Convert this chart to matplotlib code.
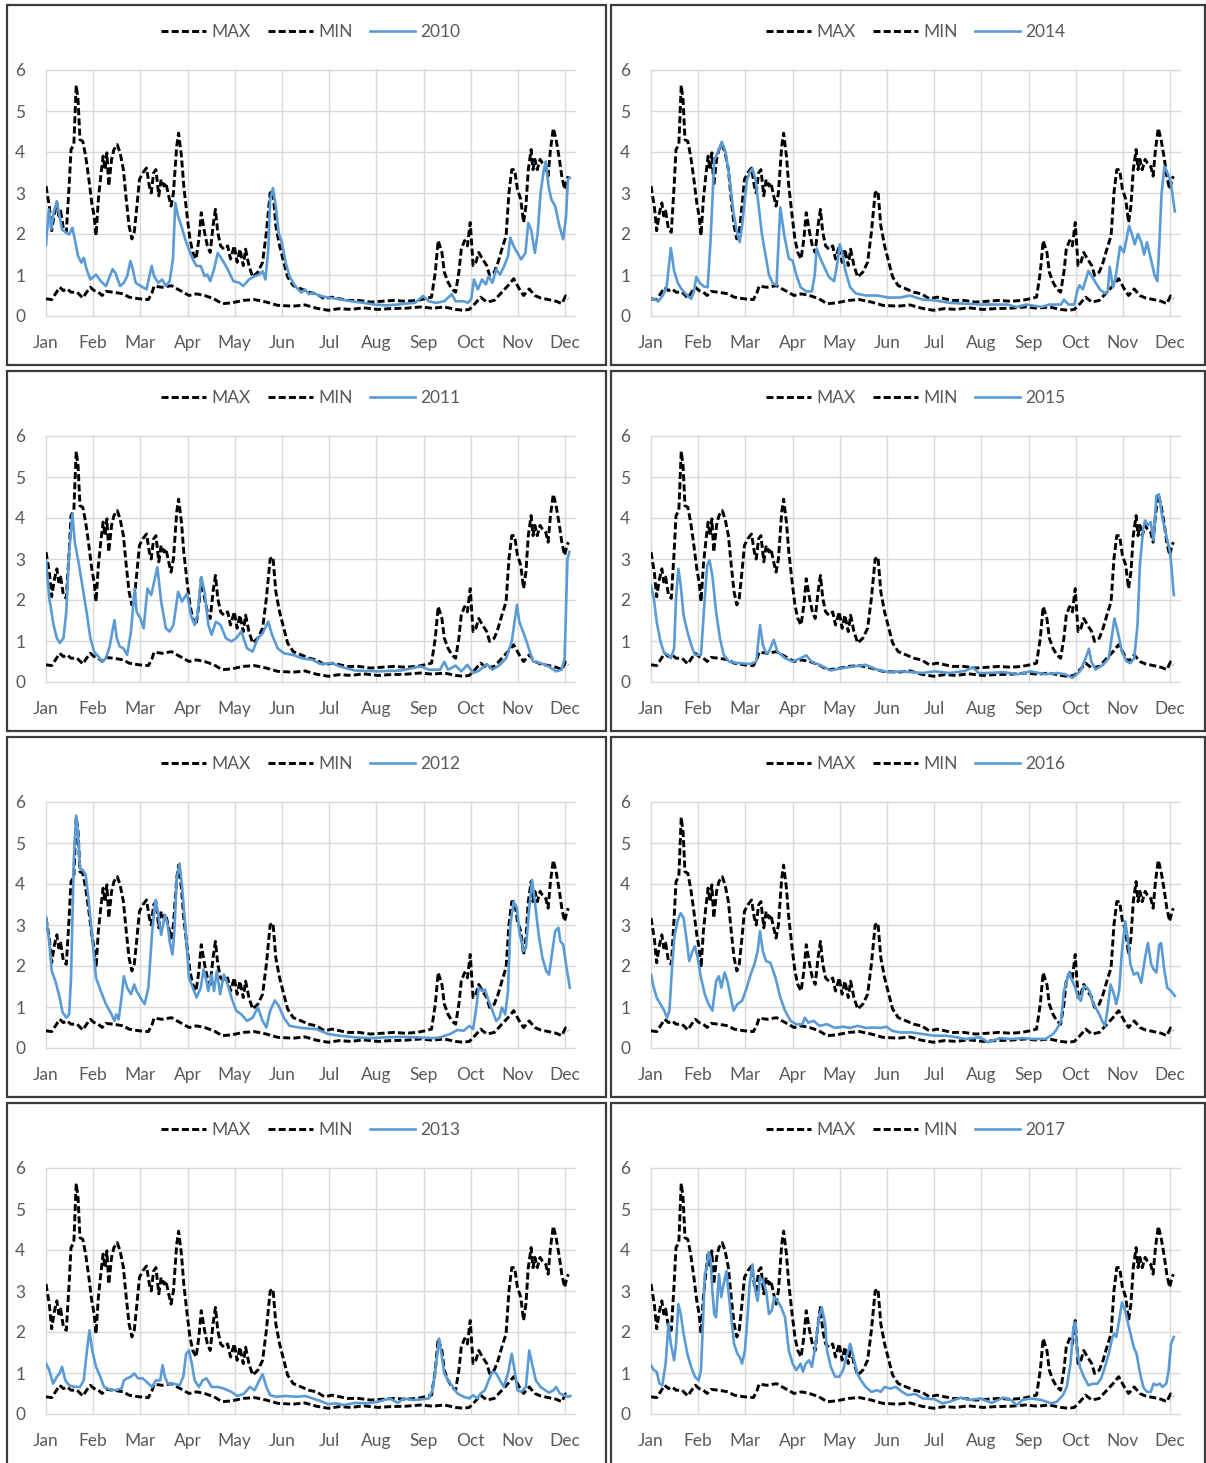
import matplotlib
matplotlib.use("Agg")
import matplotlib.pyplot as plt
from matplotlib.patches import Rectangle

plt.rcParams['font.family'] = ['Lato', 'DejaVu Sans']

MONTHS = ["Jan", "Feb", "Mar", "Apr", "May", "Jun", "Jul", "Aug", "Sep", "Oct", "Nov", "Dec"]
Y_TICKS = [0, 1, 2, 3, 4, 5, 6]

# x positions are in months since 1 January
MAX_T = [0, 0.07, 0.12, 0.18, 0.23, 0.27, 0.31, 0.37, 0.43, 0.49, 0.53, 0.59, 0.64, 0.68, 0.72, 0.78,
         0.84, 0.9, 0.97, 1.02, 1.06, 1.11, 1.16, 1.21, 1.25, 1.29, 1.33, 1.39, 1.44, 1.51, 1.57, 1.64,
         1.70, 1.76, 1.82, 1.87, 1.92, 1.98, 2.05, 2.13, 2.19, 2.23, 2.28, 2.33, 2.39, 2.44, 2.50, 2.54,
         2.60, 2.65, 2.70, 2.77, 2.81, 2.87, 2.92, 2.99, 3.05, 3.11, 3.18, 3.24, 3.29, 3.36, 3.42, 3.48,
         3.54, 3.59, 3.64, 3.70, 3.77, 3.85, 3.91, 3.99, 4.05, 4.11, 4.18, 4.23, 4.30, 4.38, 4.49, 4.59,
         4.67, 4.75, 4.81, 4.87, 4.95, 5.04, 5.12, 5.24, 5.41, 5.57, 5.73, 5.90, 6.06, 6.22, 6.39, 6.63,
         6.88, 7.13, 7.37, 7.62, 7.86, 8.03, 8.17, 8.25, 8.31, 8.39, 8.44, 8.52, 8.60, 8.68, 8.75, 8.80,
         8.87, 8.93, 8.99, 9.05, 9.11, 9.17, 9.25, 9.34, 9.40, 9.50, 9.58, 9.66, 9.75, 9.81, 9.87, 9.93,
         9.99, 10.06, 10.12, 10.17, 10.22, 10.28, 10.32, 10.36, 10.41, 10.47, 10.52, 10.59, 10.64, 10.69,
         10.75, 10.81, 10.88, 10.93, 10.99, 11.04, 11.07]
MAX_V = [3.17, 2.68, 2.08, 2.52, 2.76, 2.44, 2.56, 2.12, 2.04, 3.17, 4.06, 4.18, 5.63, 5.27, 4.30, 4.26,
         3.90, 3.41, 2.76, 2.44, 1.96, 2.85, 3.41, 3.90, 3.57, 3.98, 3.17, 3.82, 4.06, 4.18, 3.98, 3.57,
         2.85, 2.20, 1.88, 2.04, 2.60, 3.33, 3.49, 3.61, 3.17, 3.00, 3.49, 3.57, 2.93, 3.33, 3.17, 3.25,
         2.93, 2.68, 3.00, 4.14, 4.46, 3.90, 3.17, 2.44, 1.88, 1.55, 1.39, 1.88, 2.52, 2.04, 1.71, 1.55,
         2.20, 2.60, 2.04, 1.71, 1.63, 1.71, 1.39, 1.71, 1.31, 1.63, 1.23, 1.63, 1.23, 0.95, 1.07, 1.31,
         2.04, 3.00, 3.05, 2.20, 1.71, 1.31, 0.95, 0.74, 0.66, 0.58, 0.54, 0.42, 0.46, 0.42, 0.38, 0.38,
         0.34, 0.36, 0.38, 0.36, 0.38, 0.42, 0.46, 1.07, 1.84, 1.55, 1.07, 0.82, 0.66, 0.58, 1.07, 1.63,
         1.84, 1.71, 2.28, 1.23, 1.31, 1.55, 1.39, 1.23, 0.99, 1.07, 1.31, 1.63, 1.96, 3.00, 3.57, 3.57,
         3.09, 2.85, 2.28, 2.68, 3.57, 4.06, 3.57, 3.82, 3.57, 3.82, 3.73, 3.65, 3.41, 4.06,
         4.58, 4.30, 3.82, 3.41, 3.09, 3.33, 3.41]

MIN_T = [0, 0.12, 0.2, 0.29, 0.37, 0.45, 0.53, 0.66, 0.78, 0.86, 0.94, 1.02, 1.11, 1.19, 1.27, 1.43,
         1.64, 1.76, 1.97, 2.17, 2.25, 2.29, 2.46, 2.66, 2.78, 2.91, 3.03, 3.19, 3.36, 3.56, 3.73, 3.93,
         4.18, 4.42, 4.67, 4.91, 5.24, 5.49, 5.73, 5.98, 6.22, 6.47, 6.72, 7.04, 7.29, 7.62, 7.94, 8.19,
         8.44, 8.68, 8.84, 8.97, 9.09, 9.21, 9.34, 9.50, 9.66, 9.79, 9.91, 10.03, 10.12, 10.24, 10.36,
         10.48, 10.65, 10.81, 10.93, 11.01, 11.07]
MIN_V = [0.42, 0.40, 0.54, 0.70, 0.62, 0.66, 0.58, 0.58, 0.44, 0.58, 0.70, 0.62, 0.58, 0.50, 0.60, 0.58,
         0.54, 0.46, 0.42, 0.40, 0.58, 0.73, 0.70, 0.74, 0.66, 0.58, 0.50, 0.54, 0.50, 0.42, 0.30, 0.32,
         0.38, 0.40, 0.34, 0.26, 0.24, 0.27, 0.19, 0.14, 0.18, 0.16, 0.20, 0.16, 0.18, 0.19, 0.22, 0.19,
         0.22, 0.16, 0.14, 0.16, 0.30, 0.46, 0.34, 0.38, 0.58, 0.74, 0.91, 0.66, 0.50, 0.66, 0.50,
         0.44, 0.40, 0.36, 0.30, 0.49, 0.42]

Y2010_T = [0, 0.06, 0.11, 0.16, 0.23, 0.29, 0.34, 0.43, 0.49, 0.56, 0.61, 0.68, 0.75, 0.80, 0.86, 0.94,
           1.06, 1.16, 1.27, 1.41, 1.47, 1.57, 1.65, 1.72, 1.79, 1.84, 1.90, 2.01, 2.13, 2.24, 2.29, 2.38,
           2.46, 2.54, 2.62, 2.69, 2.74, 2.80, 2.87, 2.95, 3.03, 3.11, 3.19, 3.28, 3.36, 3.42, 3.48, 3.56,
           3.64, 3.73, 3.85, 3.97, 4.10, 4.18, 4.30, 4.42, 4.52, 4.59, 4.65, 4.71, 4.75, 4.81, 4.87, 4.93,
           5.0, 5.08, 5.16, 5.28, 5.41, 5.49, 5.57, 5.65, 5.81, 5.98, 6.22, 6.47, 6.72, 6.96, 7.21, 7.45,
           7.70, 7.82, 7.99, 8.11, 8.27, 8.44, 8.60, 8.68, 8.85, 8.94, 9.01, 9.07, 9.15, 9.24, 9.32, 9.38,
           9.46, 9.54, 9.62, 9.71, 9.79, 9.84, 9.91, 9.99, 10.07, 10.16, 10.22, 10.28, 10.36, 10.42, 10.48,
           10.55, 10.59, 10.65, 10.71, 10.79, 10.88, 10.96, 11.02, 11.06, 11.10]
Y2010_V = [1.74, 2.60, 2.11, 2.51, 2.80, 2.43, 2.11, 2.03, 1.99, 2.15, 1.87, 1.46, 1.30, 1.42, 1.14, 0.89,
           1.01, 0.85, 0.73, 1.14, 1.05, 0.73, 0.81, 0.97, 1.34, 1.14, 0.81, 0.73, 0.65, 1.22, 0.97, 0.81,
           0.89, 0.73, 0.85, 1.38, 2.76, 2.43, 2.19, 1.87, 1.62, 1.38, 1.22, 1.22, 0.97, 1.01, 0.85, 1.14,
           1.54, 1.38, 1.14, 0.85, 0.81, 0.73, 0.89, 0.97, 1.01, 1.09, 0.89, 1.62, 2.84, 3.12, 2.68, 2.03,
           1.78, 1.30, 0.97, 0.73, 0.57, 0.65, 0.53, 0.57, 0.49, 0.45, 0.41, 0.36, 0.32, 0.28, 0.26, 0.28,
           0.31, 0.32, 0.49, 0.36, 0.32, 0.36, 0.53, 0.36, 0.36, 0.32, 0.41, 0.89, 0.65, 0.89, 0.77, 0.97,
           0.81, 1.14, 1.01, 1.22, 1.46, 1.91, 1.70, 1.54, 1.38, 1.54, 2.27, 2.11, 1.54, 2.03, 3.00,
           3.57, 3.77, 3.16, 2.84, 2.68, 2.19, 1.87, 2.43, 3.33, 3.37]

Y2011_T = [0, 0.07, 0.16, 0.23, 0.29, 0.37, 0.43, 0.49, 0.56, 0.61, 0.70, 0.78, 0.86, 0.94, 1.02, 1.11,
           1.19, 1.27, 1.35, 1.45, 1.50, 1.56, 1.64, 1.72, 1.80, 1.88, 1.92, 2.0, 2.07, 2.15, 2.23, 2.36,
           2.44, 2.54, 2.62, 2.70, 2.80, 2.88, 2.99, 3.07, 3.15, 3.21, 3.29, 3.36, 3.44, 3.51, 3.60, 3.70,
           3.81, 3.93, 4.03, 4.14, 4.26, 4.38, 4.49, 4.59, 4.71, 4.79, 4.91, 5.04, 5.24, 5.41, 5.65, 5.81,
           6.06, 6.22, 6.55, 7.04, 7.53, 7.94, 8.11, 8.35, 8.44, 8.52, 8.68, 8.80, 8.93, 9.05, 9.17, 9.34,
           9.46, 9.62, 9.75, 9.87, 9.98, 10.03, 10.16, 10.32, 10.48, 10.65, 10.81, 10.93, 10.99, 11.05, 11.09]
Y2011_V = [2.97, 2.04, 1.39, 1.07, 0.95, 1.07, 1.71, 3.17, 4.10, 3.41, 2.85, 2.28, 1.71, 1.07, 0.74, 0.62,
           0.49, 0.58, 0.87, 1.51, 1.07, 0.87, 0.82, 0.66, 1.23, 2.28, 1.71, 1.55, 1.31, 2.28, 2.12, 2.80,
           1.96, 1.31, 1.23, 1.39, 2.20, 1.96, 2.16, 1.63, 1.39, 1.63, 2.56, 2.20, 1.39, 1.15, 1.47, 1.39,
           1.07, 0.99, 1.07, 1.23, 0.82, 0.74, 1.07, 1.19, 1.47, 1.15, 0.82, 0.70, 0.66, 0.58, 0.54, 0.44,
           0.46, 0.38, 0.28, 0.26, 0.28, 0.38, 0.30, 0.30, 0.49, 0.30, 0.40, 0.26, 0.42, 0.22, 0.27, 0.44,
           0.30, 0.42, 0.58, 0.99, 1.88, 1.47, 1.07, 0.50, 0.46, 0.38, 0.26, 0.30, 0.58, 3.00, 3.17]

Y2012_T = [0, 0.07, 0.12, 0.2, 0.29, 0.35, 0.43, 0.49, 0.53, 0.59, 0.64, 0.68, 0.72, 0.78, 0.84, 0.90,
           0.98, 1.06, 1.16, 1.27, 1.39, 1.45, 1.49, 1.54, 1.60, 1.65, 1.72, 1.80, 1.87, 1.92, 2.0, 2.09,
           2.17, 2.25, 2.32, 2.38, 2.44, 2.52, 2.58, 2.62, 2.68, 2.72, 2.77, 2.83, 2.88, 2.95, 3.03, 3.11,
           3.19, 3.28, 3.34, 3.40, 3.44, 3.51, 3.56, 3.62, 3.69, 3.77, 3.85, 3.93, 4.03, 4.14, 4.26, 4.38,
           4.49, 4.59, 4.67, 4.75, 4.85, 4.93, 5.04, 5.16, 5.41, 5.73, 5.98, 6.22, 6.55, 6.88, 7.21, 7.53,
           7.86, 8.19, 8.35, 8.56, 8.72, 8.85, 8.97, 9.05, 9.11, 9.17, 9.24, 9.30, 9.38, 9.46, 9.54, 9.61,
           9.66, 9.73, 9.79, 9.84, 9.91, 9.98, 10.03, 10.12, 10.17, 10.24, 10.30, 10.36, 10.44, 10.52,
           10.60, 10.66, 10.73, 10.79, 10.86, 10.90, 10.96, 11.02, 11.10]
Y2012_V = [3.19, 2.60, 1.88, 1.63, 1.23, 0.87, 0.74, 0.82, 1.71, 4.62, 5.67, 5.19, 4.38, 4.34, 4.22, 3.65,
           2.68, 1.71, 1.39, 1.07, 0.82, 0.66, 0.82, 0.70, 1.23, 1.75, 1.47, 1.31, 1.55, 1.39, 1.23, 1.07,
           1.47, 2.85, 3.61, 3.25, 2.76, 3.25, 3.00, 2.60, 2.28, 2.85, 4.14, 4.50, 3.98, 3.00, 1.71, 1.47,
           1.23, 1.47, 1.92, 1.63, 1.39, 1.79, 1.39, 1.88, 1.31, 1.79, 1.55, 1.23, 0.91, 0.82, 0.66, 0.74,
           0.99, 0.66, 0.50, 0.91, 1.16, 1.03, 0.74, 0.54, 0.49, 0.46, 0.34, 0.30, 0.26, 0.24, 0.26, 0.27,
           0.26, 0.24, 0.26, 0.34, 0.44, 0.42, 0.54, 0.46, 0.91, 1.47, 1.39, 1.43, 1.15, 0.91, 0.66, 0.74,
           0.99, 0.82, 1.39, 3.00, 3.57, 3.41, 2.85, 2.36, 2.44, 3.41, 4.10, 3.57, 2.76, 2.20,
           1.88, 1.79, 2.36, 2.85, 2.93, 2.60, 2.52, 2.04, 1.47]

Y2013_T = [0, 0.07, 0.15, 0.23, 0.29, 0.34, 0.41, 0.49, 0.61, 0.72, 0.80, 0.86, 0.92, 0.98, 1.06, 1.15,
           1.23, 1.35, 1.47, 1.60, 1.65, 1.72, 1.80, 1.87, 1.95, 2.05, 2.17, 2.25, 2.33, 2.42, 2.47, 2.52,
           2.58, 2.70, 2.83, 2.91, 2.97, 3.03, 3.09, 3.15, 3.24, 3.32, 3.40, 3.51, 3.64, 3.77, 3.93, 4.05,
           4.19, 4.32, 4.42, 4.52, 4.59, 4.67, 4.75, 4.87, 5.08, 5.32, 5.49, 5.65, 5.81, 5.98, 6.14, 6.31,
           6.55, 6.80, 7.04, 7.29, 7.45, 7.58, 7.78, 7.99, 8.11, 8.19, 8.26, 8.33, 8.39, 8.44, 8.52, 8.62,
           8.72, 8.85, 8.97, 9.05, 9.14, 9.21, 9.30, 9.38, 9.46, 9.54, 9.62, 9.70, 9.79, 9.87, 9.93, 9.99,
           10.07, 10.17, 10.24, 10.30, 10.38, 10.48, 10.58, 10.66, 10.75, 10.81, 10.89, 10.97, 11.06, 11.11]
Y2013_V = [1.23, 1.07, 0.74, 0.91, 0.99, 1.15, 0.82, 0.70, 0.66, 0.66, 0.82, 1.47, 2.04, 1.55, 1.15, 0.91,
           0.66, 0.60, 0.58, 0.62, 0.82, 0.87, 0.91, 0.99, 0.87, 0.87, 0.74, 0.66, 0.82, 0.82, 1.19, 0.91,
           0.74, 0.74, 0.70, 0.91, 1.47, 1.55, 1.23, 0.82, 0.66, 0.82, 0.87, 0.66, 0.66, 0.62, 0.54, 0.44,
           0.49, 0.66, 0.58, 0.82, 0.97, 0.66, 0.46, 0.42, 0.44, 0.42, 0.44, 0.38, 0.32, 0.24, 0.26, 0.22,
           0.27, 0.26, 0.30, 0.38, 0.27, 0.38, 0.34, 0.36, 0.38, 0.58, 1.15, 1.84, 1.39, 0.99, 0.82, 0.66,
           0.50, 0.42, 0.38, 0.46, 0.38, 0.50, 0.58, 0.82, 1.03, 0.99, 0.82, 0.66, 0.99, 1.47, 1.07, 0.58,
           0.54, 0.66, 1.55, 1.23, 0.82, 0.66, 0.58, 0.52, 0.58, 0.66, 0.50, 0.46, 0.42, 0.44]

Y2014_T = [0, 0.1, 0.15, 0.25, 0.33, 0.42, 0.49, 0.57, 0.65, 0.77, 0.85, 0.91, 0.96, 1.04, 1.12, 1.2,
           1.26, 1.34, 1.42, 1.5, 1.58, 1.66, 1.75, 1.83, 1.88, 1.93, 2.03, 2.09, 2.15, 2.22, 2.30, 2.35,
           2.44, 2.5, 2.58, 2.66, 2.69, 2.74, 2.82, 2.92, 3.0, 3.08, 3.17, 3.29, 3.41, 3.47, 3.51, 3.59,
           3.67, 3.77, 3.88, 3.95, 4.0, 4.06, 4.12, 4.22, 4.34, 4.55, 4.79, 5.03, 5.28, 5.48, 5.76, 6.01,
           6.33, 6.66, 6.98, 7.31, 7.55, 7.75, 7.95, 8.28, 8.44, 8.69, 8.75, 8.85, 8.97, 9.03, 9.08, 9.15,
           9.19, 9.27, 9.35, 9.43, 9.51, 9.62, 9.68, 9.72, 9.79, 9.84, 9.94, 10.02, 10.08, 10.13, 10.19,
           10.25, 10.32, 10.39, 10.45, 10.51, 10.59, 10.67, 10.73, 10.77, 10.82, 10.88, 10.94, 11.01, 11.1]
Y2014_V = [0.42, 0.40, 0.35, 0.50, 0.70, 1.66, 1.10, 0.80, 0.65, 0.50, 0.42, 0.60, 0.95, 0.80, 0.72, 0.70,
           1.80, 3.80, 4.00, 4.25, 4.00, 3.40, 2.50, 2.00, 1.80, 2.20, 3.30, 3.50, 3.60, 3.30, 2.50, 2.00,
           1.40, 1.00, 0.80, 0.75, 1.50, 2.65, 2.00, 1.40, 1.35, 1.00, 0.70, 0.60, 0.60, 1.00, 1.65, 1.40,
           1.20, 0.95, 0.85, 1.30, 1.75, 1.50, 1.10, 0.70, 0.55, 0.50, 0.50, 0.45, 0.45, 0.50, 0.40, 0.38,
           0.32, 0.30, 0.28, 0.28, 0.28, 0.22, 0.28, 0.22, 0.28, 0.28, 0.40, 0.28, 0.28, 0.60, 0.75, 0.65,
           0.80, 1.10, 0.95, 0.80, 0.65, 0.55, 0.60, 1.20, 0.70, 0.90, 1.70, 1.55, 1.90, 2.20, 2.00,
           1.75, 2.00, 1.80, 1.50, 1.80, 1.40, 1.00, 0.85, 1.70, 3.00, 3.65, 3.50, 3.30, 2.55]

Y2015_T = [0, 0.06, 0.12, 0.2, 0.28, 0.37, 0.42, 0.49, 0.53, 0.58, 0.63, 0.69, 0.77, 0.85, 0.93, 1.06,
           1.12, 1.19, 1.24, 1.30, 1.38, 1.46, 1.54, 1.66, 1.87, 2.11, 2.23, 2.31, 2.37, 2.44, 2.50, 2.60,
           2.68, 2.84, 3.0, 3.17, 3.29, 3.41, 3.57, 3.81, 4.06, 4.30, 4.55, 4.79, 5.03, 5.28, 5.52, 5.76,
           6.01, 6.33, 6.66, 6.82, 6.94, 7.14, 7.47, 7.79, 8.04, 8.36, 8.60, 8.77, 8.93, 9.09, 9.21, 9.28,
           9.33, 9.42, 9.58, 9.70, 9.76, 9.82, 9.89, 9.98, 10.08, 10.16, 10.24, 10.31, 10.36, 10.43, 10.47,
           10.53, 10.59, 10.65, 10.71, 10.76, 10.84, 10.92, 11.0, 11.08]
Y2015_V = [2.36, 2.04, 1.47, 0.99, 0.70, 0.66, 0.58, 0.82, 2.04, 2.76, 2.36, 1.63, 1.23, 0.91, 0.66, 0.66,
           1.71, 2.85, 2.97, 2.60, 1.71, 1.07, 0.66, 0.49, 0.46, 0.44, 0.50, 1.39, 0.91, 0.70, 0.74, 1.03,
           0.74, 0.58, 0.50, 0.58, 0.65, 0.49, 0.42, 0.28, 0.34, 0.38, 0.42, 0.30, 0.24, 0.26, 0.24, 0.22,
           0.26, 0.22, 0.27, 0.36, 0.22, 0.22, 0.24, 0.19, 0.26, 0.19, 0.22, 0.19, 0.10, 0.26, 0.58, 0.81,
           0.50, 0.30, 0.42, 0.58, 1.07, 1.55, 1.23, 0.74, 0.50, 0.46, 0.58, 1.39, 2.85, 3.73, 3.94,
           3.82, 3.90, 3.45, 4.54, 4.58, 3.98, 3.57, 3.17, 2.12]

Y2016_T = [0, 0.06, 0.12, 0.2, 0.28, 0.34, 0.39, 0.45, 0.50, 0.57, 0.63, 0.69, 0.75, 0.81, 0.88, 0.93,
           0.99, 1.06, 1.14, 1.22, 1.30, 1.38, 1.44, 1.49, 1.56, 1.62, 1.69, 1.75, 1.83, 1.93, 2.03, 2.11,
           2.19, 2.26, 2.31, 2.37, 2.44, 2.53, 2.64, 2.74, 2.84, 2.96, 3.08, 3.21, 3.26, 3.33, 3.45, 3.57,
           3.73, 3.90, 4.06, 4.22, 4.38, 4.55, 4.71, 4.87, 4.99, 5.11, 5.28, 5.52, 5.76, 6.01, 6.25, 6.49,
           6.66, 6.98, 7.14, 7.39, 7.63, 7.87, 8.12, 8.36, 8.52, 8.60, 8.69, 8.75, 8.81, 8.86, 8.93, 8.99,
           9.05, 9.11, 9.17, 9.24, 9.29, 9.35, 9.42, 9.50, 9.56, 9.62, 9.68, 9.74, 9.81, 9.86, 9.92, 9.98,
           10.05, 10.11, 10.16, 10.23, 10.31, 10.39, 10.47, 10.53, 10.6, 10.65, 10.71, 10.77, 10.81, 10.88,
           10.94, 11.02, 11.10]
Y2016_V = [1.79, 1.47, 1.23, 1.07, 0.91, 0.74, 0.91, 2.04, 2.76, 3.13, 3.29, 3.17, 2.68, 2.12, 2.36, 2.48,
           2.20, 1.71, 1.31, 1.07, 0.91, 1.63, 1.75, 1.47, 1.84, 1.63, 1.23, 0.91, 1.07, 1.15, 1.47, 1.79,
           2.04, 2.36, 2.85, 2.36, 2.12, 2.08, 1.71, 1.23, 0.91, 0.66, 0.58, 0.58, 0.74, 0.62, 0.66, 0.54,
           0.58, 0.49, 0.52, 0.49, 0.54, 0.49, 0.50, 0.49, 0.52, 0.42, 0.38, 0.38, 0.34, 0.30, 0.30, 0.26,
           0.22, 0.26, 0.14, 0.24, 0.22, 0.24, 0.22, 0.22, 0.34, 0.46, 0.66, 1.39, 1.63, 1.84, 1.63, 1.47,
           1.23, 1.15, 1.51, 1.47, 1.39, 1.15, 0.99, 0.82, 0.66, 0.54, 0.99, 1.55, 1.31, 1.07, 1.39, 2.36,
           3.09, 2.60, 2.04, 1.79, 1.84, 1.59, 2.20, 2.56, 2.04, 1.92, 1.84, 2.52, 2.56, 1.88,
           1.47, 1.39, 1.27]

Y2017_T = [0, 0.06, 0.12, 0.18, 0.24, 0.31, 0.37, 0.42, 0.49, 0.53, 0.58, 0.63, 0.69, 0.77, 0.85, 0.93,
           1.01, 1.06, 1.10, 1.14, 1.18, 1.22, 1.26, 1.30, 1.34, 1.38, 1.44, 1.49, 1.54, 1.60, 1.64, 1.70,
           1.76, 1.83, 1.88, 1.93, 1.99, 2.05, 2.09, 2.15, 2.21, 2.26, 2.31, 2.37, 2.44, 2.50, 2.56, 2.61,
           2.68, 2.76, 2.84, 2.92, 3.0, 3.08, 3.17, 3.22, 3.28, 3.35, 3.41, 3.49, 3.56, 3.62, 3.69, 3.73,
           3.81, 3.90, 3.99, 4.07, 4.14, 4.22, 4.29, 4.37, 4.45, 4.55, 4.67, 4.79, 4.87, 4.95, 5.07, 5.19,
           5.32, 5.44, 5.60, 5.76, 6.01, 6.17, 6.33, 6.57, 6.74, 6.98, 7.22, 7.47, 7.63, 7.75, 7.87, 8.04,
           8.28, 8.48, 8.60, 8.73, 8.81, 8.89, 8.95, 8.99, 9.03, 9.09, 9.17, 9.27, 9.37, 9.46, 9.54, 9.62,
           9.70, 9.78, 9.82, 9.86, 9.92, 9.98, 10.05, 10.11, 10.16, 10.23, 10.29, 10.35, 10.43, 10.51,
           10.59, 10.65, 10.71, 10.78, 10.84, 10.92, 10.97, 11.02, 11.08]
Y2017_V = [1.19, 1.07, 1.03, 0.74, 0.70, 1.23, 2.20, 1.71, 1.31, 1.71, 2.68, 2.44, 1.96, 1.47, 1.15, 0.91,
           0.82, 1.07, 2.20, 3.41, 3.57, 3.94, 3.82, 3.00, 2.44, 2.36, 3.41, 2.85, 3.17, 3.49, 3.00, 2.36,
           1.71, 1.47, 1.39, 1.23, 1.55, 2.44, 3.17, 3.65, 3.00, 2.76, 3.33, 3.25, 3.00, 2.44, 2.52, 2.85,
           2.76, 2.60, 2.36, 1.55, 1.23, 1.07, 1.23, 1.03, 1.23, 1.31, 1.15, 1.71, 2.36, 2.60, 2.20, 1.55,
           1.15, 0.91, 0.91, 1.07, 1.39, 1.71, 1.39, 0.99, 0.82, 0.66, 0.54, 0.58, 0.54, 0.66, 0.62, 0.66,
           0.54, 0.46, 0.49, 0.38, 0.36, 0.26, 0.30, 0.40, 0.34, 0.38, 0.27, 0.40, 0.34, 0.22, 0.34, 0.38,
           0.34, 0.26, 0.30, 0.46, 0.66, 1.23, 2.12, 2.24, 1.55, 1.15, 0.91, 0.70, 0.74, 0.74, 0.87, 1.15,
           1.47, 1.88, 1.96, 1.88, 2.28, 2.72, 2.52, 2.20, 1.96, 1.63, 1.47, 1.07, 0.66, 0.54,
           0.54, 0.74, 0.70, 0.74, 0.66, 0.74, 1.07, 1.71, 1.88]

YEARS = ["2010", "2014", "2011", "2015", "2012", "2016", "2013", "2017"]
YEAR_T = [Y2010_T, Y2014_T, Y2011_T, Y2015_T, Y2012_T, Y2016_T, Y2013_T, Y2017_T]
YEAR_V = [Y2010_V, Y2014_V, Y2011_V, Y2015_V, Y2012_V, Y2016_V, Y2013_V, Y2017_V]

W, H = 1206, 1463
fig = plt.figure(figsize=(W / 100, H / 100), dpi=100)
fig.patch.set_facecolor("white")

TEXT = "#595959"
GRID = "#d9d9d9"
BLUE = "#5b9bd5"
LW_BLACK = 2.1
LW_BLUE = 1.9
DASH = (2.4, 1.1)

row_tops = [5, 371, 737, 1103]
box_x = [(7, 606), (611, 1205)]
ax_x = [(46, 575), (651, 1180)]

for i, year in enumerate(YEARS):
    r, c = divmod(i, 2)
    top = row_tops[r]
    bx0, bx1 = box_x[c]
    bh = 360 if r < 3 else 368
    fig.patches.append(Rectangle((bx0 / W, 1 - (top + bh) / H), (bx1 - bx0) / W, bh / H,
                                 transform=fig.transFigure, fill=False, ec="#3c3c3c", lw=1.6))
    x0, x1 = ax_x[c]
    ax = fig.add_axes([x0 / W, 1 - (top + 311) / H, (x1 - x0) / W, 246 / H])
    ax.set_facecolor("white")
    ax.plot(MAX_T, MAX_V, color="black", lw=LW_BLACK, dashes=DASH, label="MAX")
    ax.plot(MIN_T, MIN_V, color="black", lw=LW_BLACK, dashes=DASH, label="MIN")
    ax.plot(YEAR_T[i], YEAR_V[i], color=BLUE, lw=LW_BLUE, label=year)
    ax.set_xlim(0, 11.21)
    ax.set_ylim(0, 6)
    ax.set_xticks(range(len(MONTHS)))
    ax.set_xticklabels(MONTHS)
    ax.set_yticks(Y_TICKS)
    ax.set_yticklabels([str(v) for v in Y_TICKS])
    ax.grid(True, color=GRID, lw=1.0)
    ax.set_axisbelow(True)
    for gl in ax.get_xgridlines() + ax.get_ygridlines():
        gl.set_clip_on(False)
    for s in ax.spines.values():
        s.set_visible(False)
    ax.tick_params(length=0, labelsize=12.5, labelcolor=TEXT)
    ax.tick_params(axis="x", pad=14)
    ax.tick_params(axis="y", pad=15)
    ax.legend(loc="center", bbox_to_anchor=(0.5, 1 + 38 / 246), ncol=3, frameon=False,
              fontsize=12.5, handlelength=2.6, handletextpad=0.3, columnspacing=1.0,
              labelcolor=TEXT)

fig.savefig("out.png", dpi=100, facecolor="white")
